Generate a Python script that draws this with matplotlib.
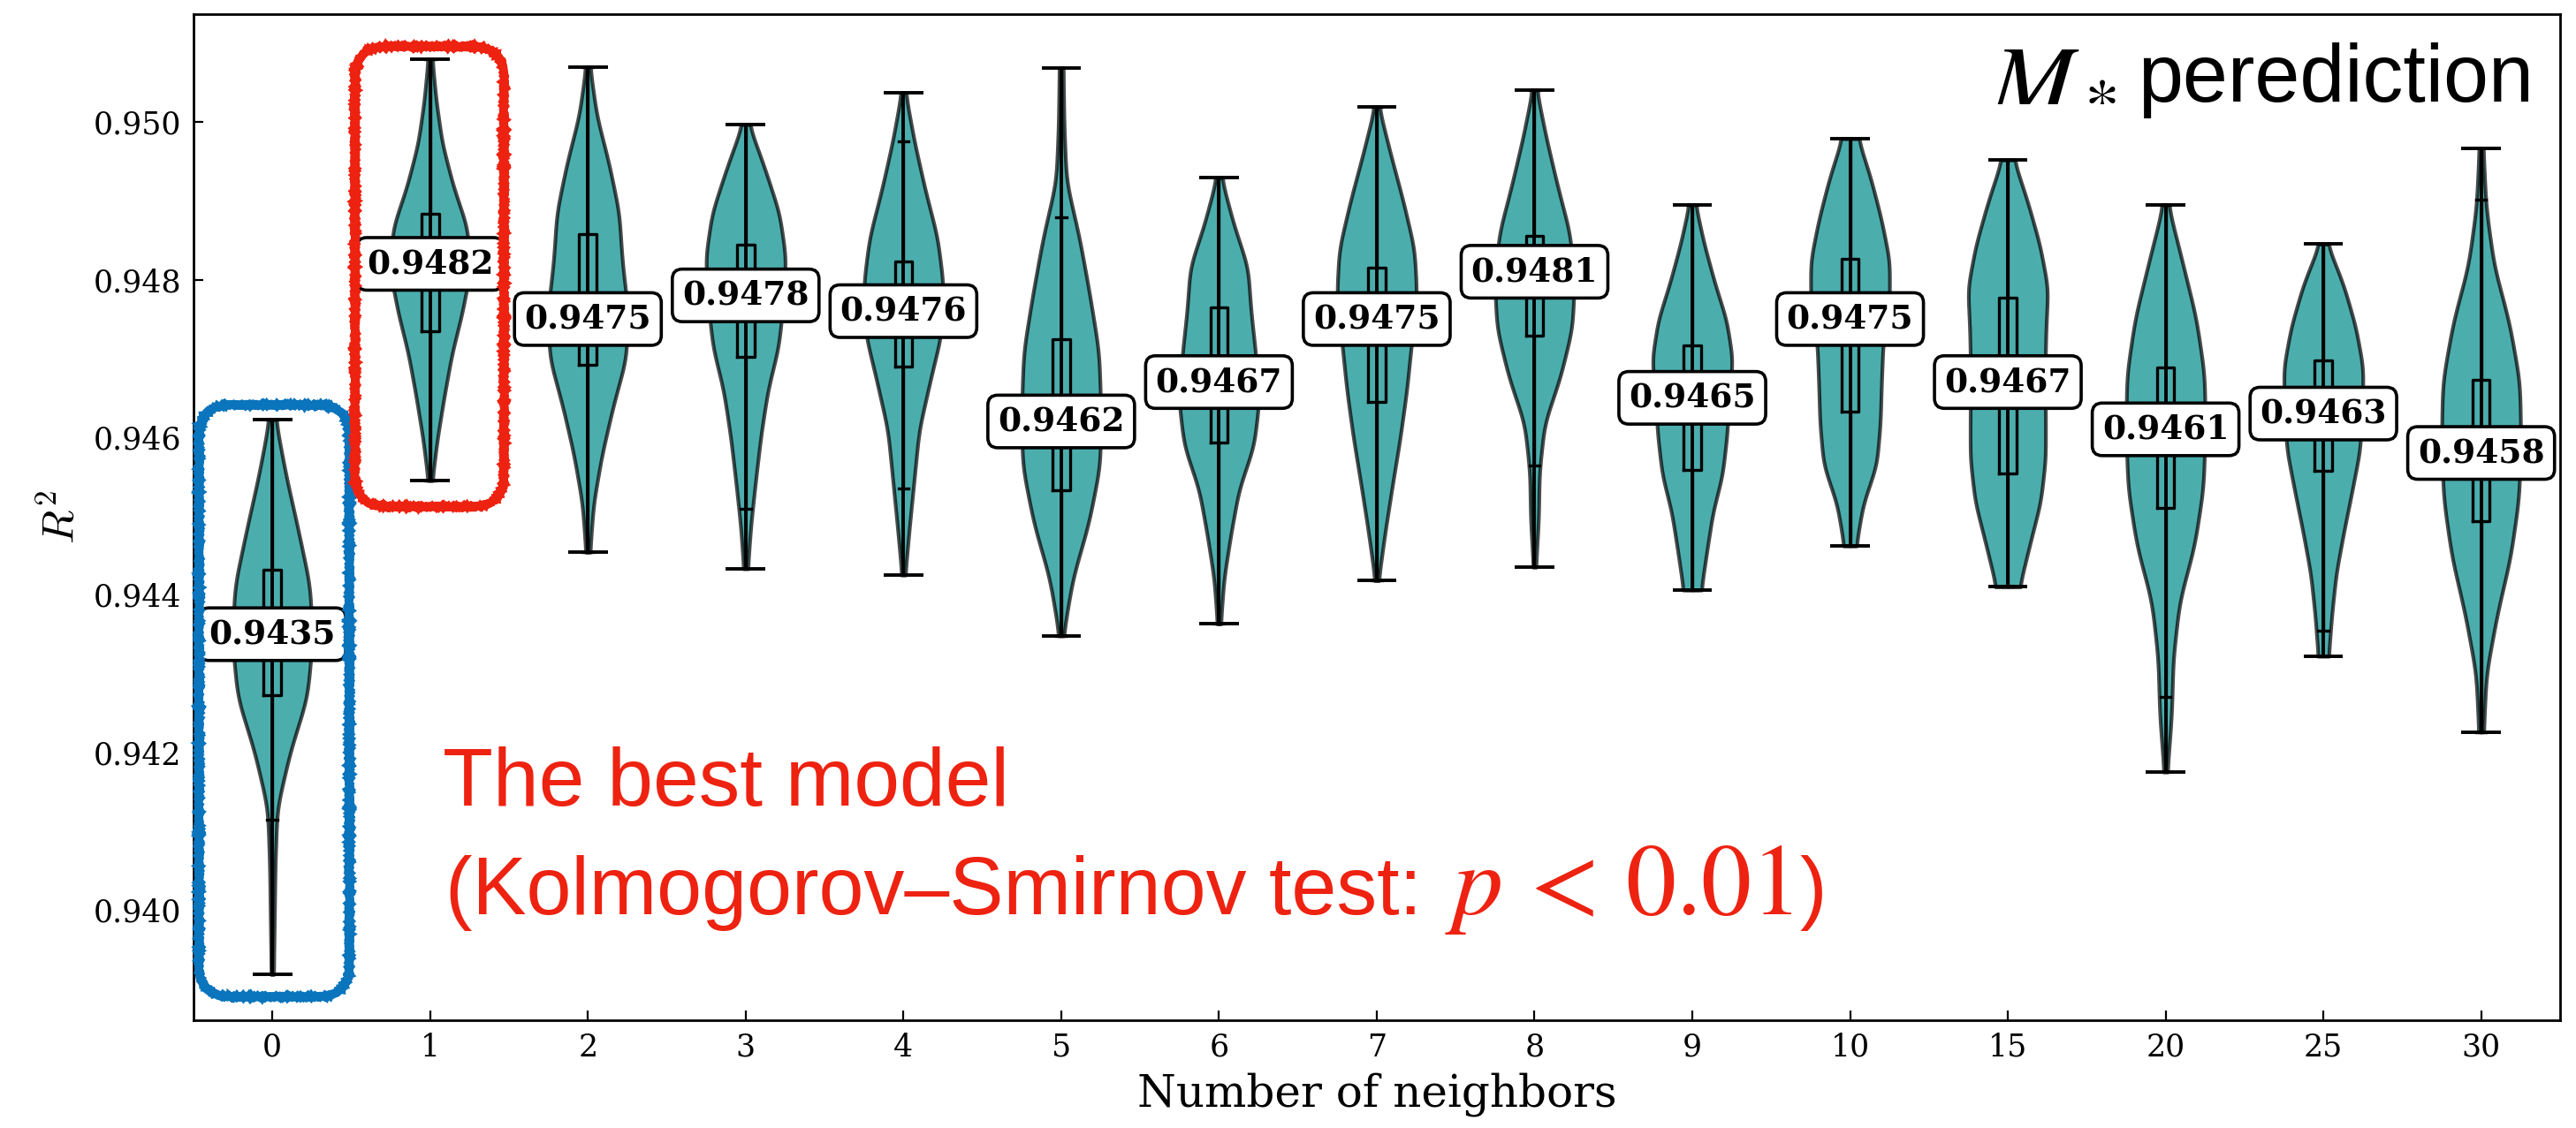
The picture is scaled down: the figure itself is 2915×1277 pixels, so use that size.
import numpy as np
import matplotlib.pyplot as plt
from matplotlib.patches import FancyBboxPatch
from matplotlib.ticker import FormatStrFormatter

# ---- data ----
neighbors = ['0', '1', '2', '3', '4', '5', '6', '7', '8', '9', '10', '15', '20', '25', '30']

r2_max = [0.94622, 0.95080, 0.95070, 0.94997, 0.95037, 0.95069, 0.94929, 0.95019,
          0.95041, 0.94895, 0.94979, 0.94952, 0.94895, 0.94845, 0.94967]
r2_min = [0.93918, 0.94545, 0.94454, 0.94433, 0.94425, 0.94348, 0.94363, 0.94418,
          0.94435, 0.94406, 0.94462, 0.94410, 0.94175, 0.94322, 0.94226]
r2_q3 = [0.94432, 0.94884, 0.94858, 0.94844, 0.94823, 0.94724, 0.94765, 0.94815,
         0.94856, 0.94717, 0.94826, 0.94777, 0.94689, 0.94697, 0.94673]
r2_q1 = [0.94273, 0.94734, 0.94692, 0.94702, 0.94690, 0.94533, 0.94593, 0.94645,
         0.94729, 0.94559, 0.94632, 0.94554, 0.94510, 0.94557, 0.94494]
r2_median = [0.9435, 0.9482, 0.9475, 0.9478, 0.9476, 0.9462, 0.9467, 0.9475,
             0.9481, 0.9465, 0.9475, 0.9467, 0.9461, 0.9463, 0.9458]
# whisker ends of the inner box plots (small caps)
whis_lo = [0.94114, 0.94545, 0.94454, 0.94509, 0.94535, 0.94348, 0.94363, 0.94418,
           0.94564, 0.94406, 0.94462, 0.94410, 0.94270, 0.94355, 0.94226]
whis_hi = [0.94622, 0.95080, 0.95070, 0.94997, 0.94976, 0.94879, 0.94929, 0.95019,
           0.95041, 0.94895, 0.94979, 0.94952, 0.94895, 0.94845, 0.94901]

# relative violin width at 11 levels from min (first) to max (last)
density = [
    [0.03, 0.05, 0.07, 0.12, 0.44, 0.87, 1.00, 0.94, 0.65, 0.34, 0.08],
    [0.05, 0.18, 0.35, 0.54, 0.80, 1.00, 0.92, 0.57, 0.30, 0.15, 0.05],
    [0.05, 0.14, 0.35, 0.63, 0.96, 1.00, 0.86, 0.78, 0.53, 0.22, 0.05],
    [0.05, 0.13, 0.25, 0.38, 0.55, 0.82, 0.94, 1.00, 0.84, 0.48, 0.08],
    [0.04, 0.15, 0.27, 0.39, 0.66, 0.95, 1.00, 0.85, 0.54, 0.27, 0.05],
    [0.05, 0.29, 0.70, 0.98, 1.00, 0.95, 0.72, 0.46, 0.13, 0.07, 0.05],
    [0.04, 0.12, 0.29, 0.49, 0.86, 0.99, 0.91, 0.79, 0.71, 0.35, 0.06],
    [0.04, 0.20, 0.38, 0.57, 0.73, 0.85, 0.98, 0.92, 0.65, 0.34, 0.05],
    [0.03, 0.10, 0.12, 0.25, 0.65, 0.94, 1.00, 0.88, 0.57, 0.29, 0.05],
    [0.22, 0.36, 0.51, 0.75, 0.86, 0.92, 1.00, 0.85, 0.55, 0.29, 0.08],
    [0.15, 0.32, 0.66, 0.75, 0.78, 0.82, 0.98, 0.98, 0.78, 0.52, 0.20],
    [0.29, 0.55, 0.82, 0.94, 0.94, 0.93, 0.95, 1.00, 0.80, 0.50, 0.15],
    [0.04, 0.15, 0.19, 0.35, 0.73, 0.95, 1.00, 0.98, 0.77, 0.42, 0.06],
    [0.13, 0.21, 0.32, 0.51, 0.72, 0.92, 0.98, 1.00, 0.81, 0.51, 0.10],
    [0.06, 0.13, 0.40, 0.74, 0.95, 1.00, 0.97, 0.71, 0.32, 0.12, 0.05],
]

plt.rcParams['font.family'] = 'DejaVu Serif'

fig = plt.figure(figsize=(14.575, 6.385), dpi=200)
ax = fig.add_axes([0.0751, 0.0955, 0.9187, 0.892])
pos = np.arange(len(neighbors))

# violin bodies from the read-off profiles (outline smoothed for drawing)
vpstats = []
for lo, hi, med, dens in zip(r2_min, r2_max, r2_median, density):
    levels = np.linspace(lo, hi, len(dens))
    coords = np.linspace(lo, hi, 200)
    vals = np.interp(coords, levels, dens)
    k = np.hanning(25)
    k /= k.sum()
    vals = np.convolve(np.pad(vals, 12, mode='edge'), k, mode='valid')
    vpstats.append(dict(coords=coords, vals=vals, mean=med, median=med, min=lo, max=hi))

parts = ax.violin(vpstats, positions=pos, widths=0.5, showmeans=False,
                  showextrema=True, showmedians=False)
for body in parts['bodies']:
    body.set_facecolor('darkcyan')
    body.set_edgecolor('black')
    body.set_alpha(0.7)
    body.set_linewidth(1.5)
for key in ['cbars', 'cmins', 'cmaxes']:
    parts[key].set_color('black')
    parts[key].set_linewidth(1.4)

# thin box plots inside
bstats = []
for i in range(len(neighbors)):
    bstats.append(dict(med=r2_median[i], q1=r2_q1[i], q3=r2_q3[i],
                       whislo=whis_lo[i], whishi=whis_hi[i], fliers=[]))
ax.bxp(bstats, positions=pos, widths=0.11, capwidths=0.065, showfliers=False,
       boxprops=dict(color='black', lw=1.2), whiskerprops=dict(color='black', lw=1.2),
       capprops=dict(color='black', lw=1.2), medianprops=dict(color='black', lw=1.2),
       manage_ticks=False)

# median labels
for i, m in enumerate(r2_median):
    ax.text(pos[i], m, f'{m:.4f}', ha='center', va='center', fontsize=13.5,
            fontweight='bold', zorder=5,
            bbox=dict(boxstyle='round,pad=0.3', fc='white', ec='black', lw=1.3))

ax.set_xlim(-0.5, 14.5)
ax.set_ylim(0.93860, 0.95137)
ax.set_xticks(pos)
ax.set_xticklabels(neighbors)
ax.set_yticks([0.940, 0.942, 0.944, 0.946, 0.948, 0.950])
ax.yaxis.set_major_formatter(FormatStrFormatter('%.3f'))
ax.tick_params(direction='in', length=3.9, width=0.8, labelsize=12.5, pad=5)
for sp in ax.spines.values():
    sp.set_linewidth(1.0)
ax.set_xlabel('Number of neighbors', fontsize=18, labelpad=4)
ax.set_ylabel(r'$R^2$', fontsize=18, math_fontfamily='cm')

# rough highlight boxes
blue_box = FancyBboxPatch((-0.465, 0.93890), 0.953, 0.00751,
                          boxstyle='round,pad=0,rounding_size=0.2', mutation_aspect=0.002,
                          fc='none', ec='#0a74bc', lw=3.4, clip_on=False, zorder=6)
red_box = FancyBboxPatch((0.524, 0.94512), 0.944, 0.00584,
                         boxstyle='round,pad=0,rounding_size=0.2', mutation_aspect=0.002,
                         fc='none', ec='#ee2211', lw=3.4, clip_on=False, zorder=6)
for b in [blue_box, red_box]:
    b.set_sketch_params(scale=0.8, length=1.5, randomness=3.0)
    ax.add_patch(b)

# annotations
red = '#ee2211'
ax.text(0.1053, 0.213, 'The best model', transform=ax.transAxes, color=red,
        fontsize=33.5, family='Liberation Sans', va='baseline', ha='left')
t2 = ax.text(0.1065, 0.105, '(Kolmogorov\u2013Smirnov test: ', transform=ax.transAxes,
             color=red, fontsize=33, family='Liberation Sans', va='baseline', ha='left')
t_right = ax.text(0.989, 0.913, 'perediction', transform=ax.transAxes, color='black',
                  fontsize=33, family='Liberation Sans', va='baseline', ha='right')

fig.canvas.draw()
inv = ax.transAxes.inverted()
bb2 = t2.get_window_extent().transformed(inv)
t3 = ax.text(bb2.x1, 0.105, r'$p\,<\,0.01$', transform=ax.transAxes, color=red,
             fontsize=41, math_fontfamily='stix', va='baseline', ha='left')
fig.canvas.draw()
bb3 = t3.get_window_extent().transformed(inv)
ax.text(bb3.x1 + 0.003, 0.105, ')', transform=ax.transAxes, color=red,
        fontsize=33, family='Liberation Sans', va='baseline', ha='left')
bbr = t_right.get_window_extent().transformed(inv)
ax.text(bbr.x0 - 0.009, 0.913, r'$M_*$', transform=ax.transAxes, color='black',
        fontsize=41, math_fontfamily='stix', va='baseline', ha='right')

fig.savefig('out.png', dpi=200)
